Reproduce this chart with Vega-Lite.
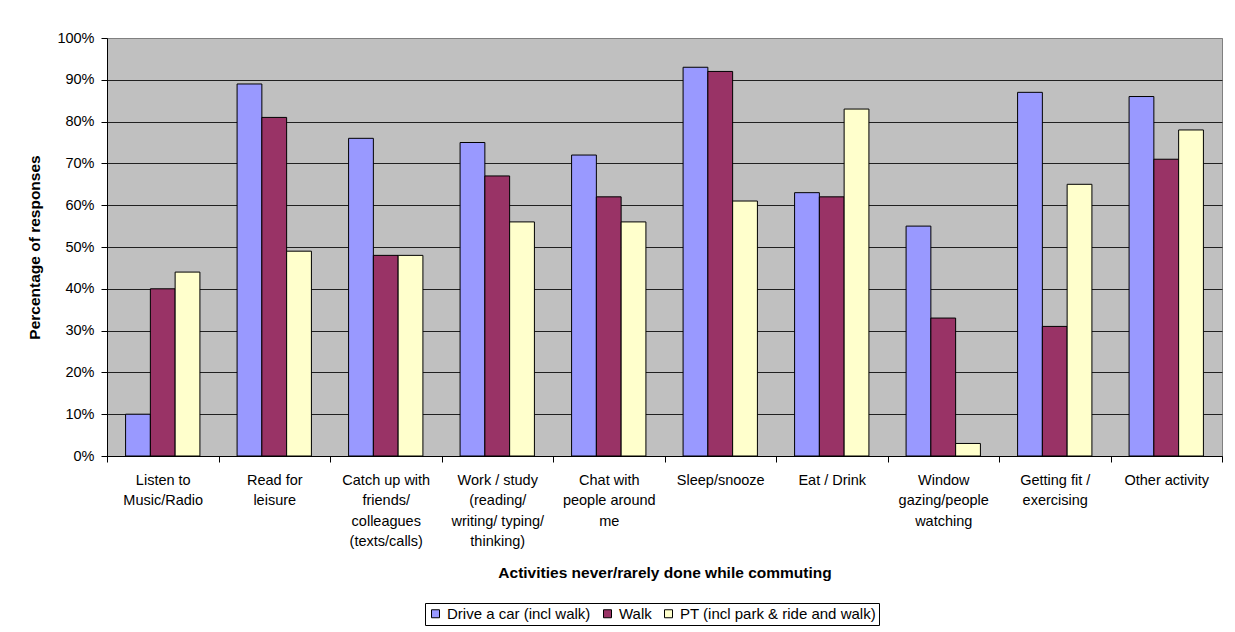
{
  "$schema": "https://vega.github.io/schema/vega-lite/v6.json",
  "width": 1115,
  "height": 418,
  "autosize": {"type": "none"},
  "padding": {"left": 107, "top": 38, "right": 13, "bottom": 176},
  "background": "white",
  "data": {
    "values": [
      {"activity": "Listen to\nMusic/Radio", "mode": "Drive a car (incl walk)", "share": 0.10},
      {"activity": "Listen to\nMusic/Radio", "mode": "Walk", "share": 0.40},
      {"activity": "Listen to\nMusic/Radio", "mode": "PT (incl park & ride and walk)", "share": 0.44},
      {"activity": "Read for\nleisure", "mode": "Drive a car (incl walk)", "share": 0.89},
      {"activity": "Read for\nleisure", "mode": "Walk", "share": 0.81},
      {"activity": "Read for\nleisure", "mode": "PT (incl park & ride and walk)", "share": 0.49},
      {"activity": "Catch up with\nfriends/\ncolleagues\n(texts/calls)", "mode": "Drive a car (incl walk)", "share": 0.76},
      {"activity": "Catch up with\nfriends/\ncolleagues\n(texts/calls)", "mode": "Walk", "share": 0.48},
      {"activity": "Catch up with\nfriends/\ncolleagues\n(texts/calls)", "mode": "PT (incl park & ride and walk)", "share": 0.48},
      {"activity": "Work / study\n(reading/\nwriting/ typing/\nthinking)", "mode": "Drive a car (incl walk)", "share": 0.75},
      {"activity": "Work / study\n(reading/\nwriting/ typing/\nthinking)", "mode": "Walk", "share": 0.67},
      {"activity": "Work / study\n(reading/\nwriting/ typing/\nthinking)", "mode": "PT (incl park & ride and walk)", "share": 0.56},
      {"activity": "Chat with\npeople around\nme", "mode": "Drive a car (incl walk)", "share": 0.72},
      {"activity": "Chat with\npeople around\nme", "mode": "Walk", "share": 0.62},
      {"activity": "Chat with\npeople around\nme", "mode": "PT (incl park & ride and walk)", "share": 0.56},
      {"activity": "Sleep/snooze", "mode": "Drive a car (incl walk)", "share": 0.93},
      {"activity": "Sleep/snooze", "mode": "Walk", "share": 0.92},
      {"activity": "Sleep/snooze", "mode": "PT (incl park & ride and walk)", "share": 0.61},
      {"activity": "Eat / Drink", "mode": "Drive a car (incl walk)", "share": 0.63},
      {"activity": "Eat / Drink", "mode": "Walk", "share": 0.62},
      {"activity": "Eat / Drink", "mode": "PT (incl park & ride and walk)", "share": 0.83},
      {"activity": "Window\ngazing/people\nwatching", "mode": "Drive a car (incl walk)", "share": 0.55},
      {"activity": "Window\ngazing/people\nwatching", "mode": "Walk", "share": 0.33},
      {"activity": "Window\ngazing/people\nwatching", "mode": "PT (incl park & ride and walk)", "share": 0.03},
      {"activity": "Getting fit /\nexercising", "mode": "Drive a car (incl walk)", "share": 0.87},
      {"activity": "Getting fit /\nexercising", "mode": "Walk", "share": 0.31},
      {"activity": "Getting fit /\nexercising", "mode": "PT (incl park & ride and walk)", "share": 0.65},
      {"activity": "Other activity", "mode": "Drive a car (incl walk)", "share": 0.86},
      {"activity": "Other activity", "mode": "Walk", "share": 0.71},
      {"activity": "Other activity", "mode": "PT (incl park & ride and walk)", "share": 0.78}
    ]
  },
  "mark": {"type": "bar", "stroke": "black", "strokeWidth": 1},
  "encoding": {
    "x": {
      "field": "activity",
      "type": "nominal",
      "sort": null,
      "title": "Activities never/rarely done while commuting",
      "scale": {"paddingInner": 0, "paddingOuter": 0},
      "axis": {
        "labelAngle": 0,
        "labelExpr": "split(datum.label, '\\n')",
        "labelLineHeight": 20.5,
        "labelBaseline": "top",
        "labelFontSize": 14.5,
        "labelColor": "black",
        "labelPadding": 11,
        "labelLimit": 0,
        "tickBand": "extent",
        "tickSize": 6,
        "tickColor": "black",
        "domainColor": "black",
        "grid": false,
        "titleFontSize": 15.5,
        "titleFontWeight": "bold",
        "titleColor": "black",
        "titlePadding": 17
      }
    },
    "xOffset": {
      "field": "mode",
      "type": "nominal",
      "sort": ["Drive a car (incl walk)", "Walk", "PT (incl park & ride and walk)"],
      "scale": {"paddingInner": 0, "paddingOuter": 0.75}
    },
    "y": {
      "field": "share",
      "type": "quantitative",
      "title": "Percentage of responses",
      "scale": {"domain": [0, 1], "nice": false},
      "axis": {
        "format": ".0%",
        "values": [0, 0.1, 0.2, 0.3, 0.4, 0.5, 0.6, 0.7, 0.8, 0.9, 1],
        "grid": true,
        "gridColor": {"condition": {"test": "datum.value >= 1", "value": "#808080"}, "value": "#202020"},
        "gridWidth": 1,
        "domainColor": "black",
        "tickColor": "black",
        "tickSize": 6,
        "labelFontSize": 14.5,
        "labelColor": "black",
        "labelPadding": 7,
        "titleFontSize": 15.5,
        "titleFontWeight": "bold",
        "titleColor": "black",
        "titlePadding": 14
      }
    },
    "color": {
      "field": "mode",
      "type": "nominal",
      "sort": ["Drive a car (incl walk)", "Walk", "PT (incl park & ride and walk)"],
      "scale": {
        "domain": ["Drive a car (incl walk)", "Walk", "PT (incl park & ride and walk)"],
        "range": ["#9999FF", "#993366", "#FFFFCC"]
      },
      "legend": {
        "title": null,
        "orient": "none",
        "legendX": 318,
        "legendY": 565,
        "direction": "horizontal",
        "strokeColor": "black",
        "fillColor": "white",
        "padding": 3,
        "symbolType": "square",
        "symbolSize": 64,
        "symbolStrokeColor": "black",
        "symbolStrokeWidth": 1,
        "symbolOpacity": 1,
        "labelFontSize": 15,
        "labelColor": "black",
        "labelOffset": 4,
        "labelLimit": 0,
        "columnPadding": 9
      }
    }
  },
  "config": {
    "font": "Liberation Sans",
    "view": {"fill": "#C0C0C0", "stroke": "#808080", "strokeWidth": 1}
  }
}
